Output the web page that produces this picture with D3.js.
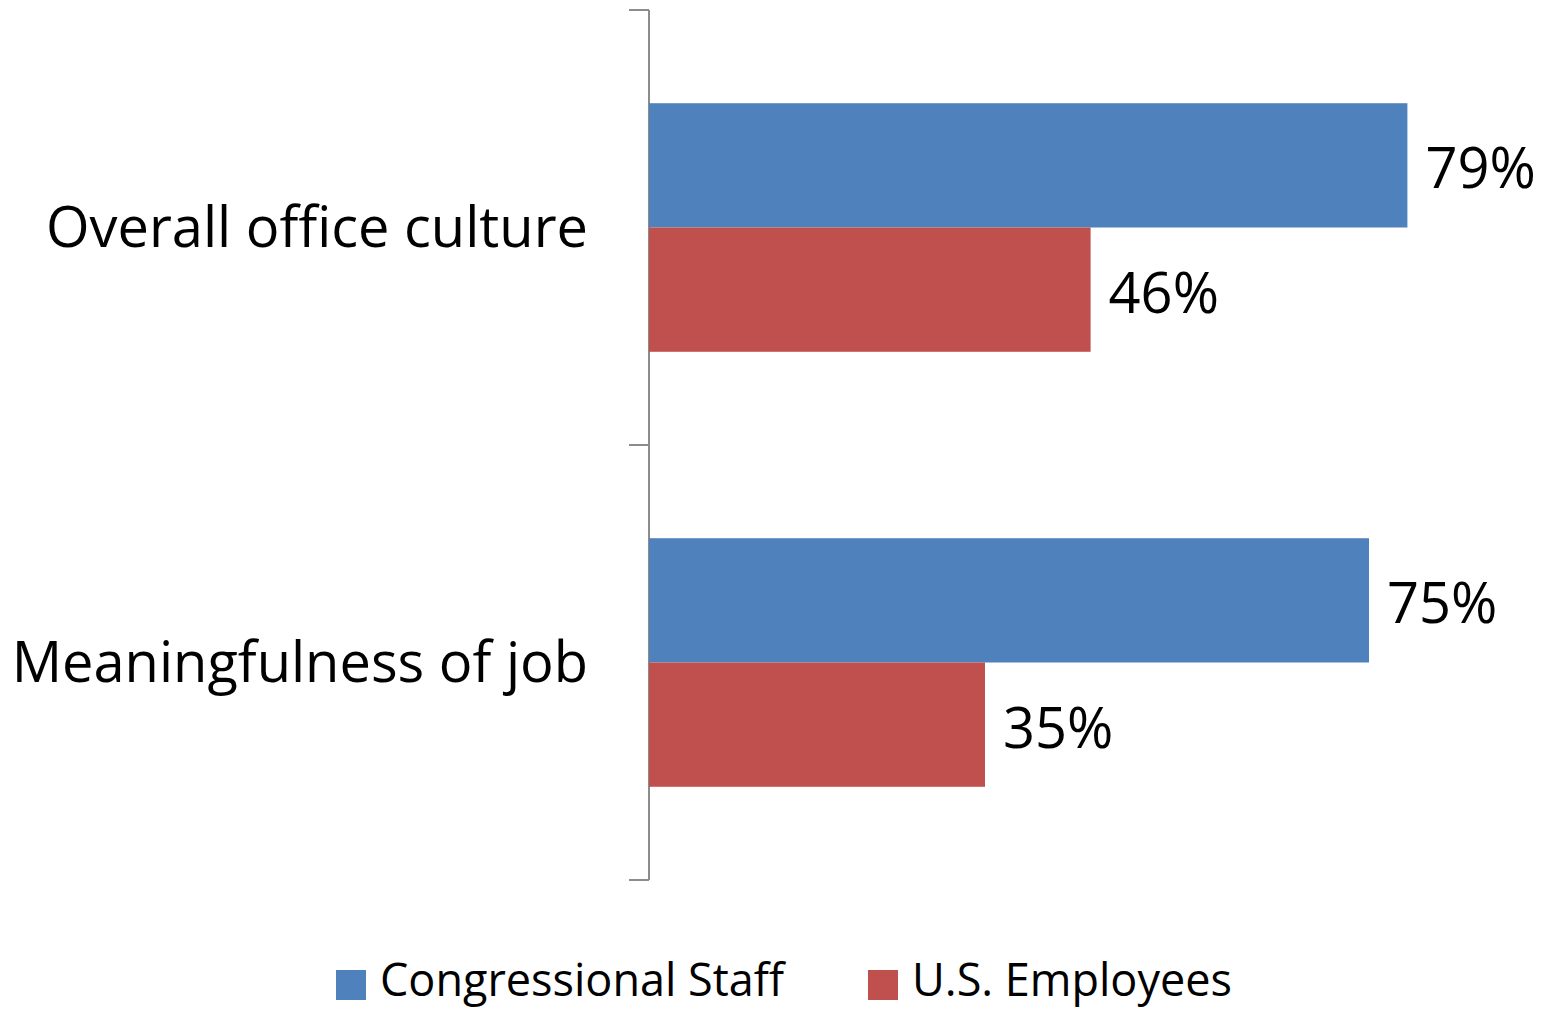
<!DOCTYPE html>
<html lang="en">
<head>
<meta charset="UTF-8">
<title>Congressional Staff vs U.S. Employees</title>
<script src="https://d3js.org/d3.v7.min.js"></script>
<style>
  body { margin: 0; background: #fff; }
  text { font-family: "Open Sans", "Noto Sans", sans-serif; fill: #000; }
</style>
</head>
<body>
<svg id="chart" width="1545" height="1010"></svg>
<script>
const categories = ["Overall office culture", "Meaningfulness of job"];
const seriesNames = ["Congressional Staff", "U.S. Employees"];
const congressionalStaff = [79, 75];
const usEmployees = [46, 35];
const seriesColors = ["#4F81BD", "#C0504D"];

const svg = d3.select("#chart");

const rows = categories.map((c, i) => ({
    category: c,
    values: [
        {series: seriesNames[0], value: congressionalStaff[i]},
        {series: seriesNames[1], value: usEmployees[i]}
    ]
}));

const x = d3.scaleLinear().domain([0, 100]).range([649, 1609]);

const y = d3.scaleBand()
    .domain(categories)
    .range([10, 880]);

const ySeries = d3.scaleBand()
    .domain(seriesNames)
    .range([0, y.bandwidth()])
    .paddingInner(0)
    .paddingOuter(0.75);

const color = d3.scaleOrdinal().domain(seriesNames).range(seriesColors);

// axis line + ticks at band edges
const axisG = svg.append("g");
const edges = categories.map(c => y(c)).concat([y.range()[1]]);
axisG.append("line")
    .attr("x1", x(0)).attr("x2", x(0))
    .attr("y1", y.range()[0]).attr("y2", y.range()[1])
    .attr("stroke", "#8c8c8c").attr("stroke-width", 2);
axisG.selectAll(".tick")
    .data(edges)
    .enter().append("line")
        .attr("x1", x(0) - 20).attr("x2", x(0))
        .attr("y1", d => d).attr("y2", d => d)
        .attr("stroke", "#8c8c8c").attr("stroke-width", 2);

// category labels
svg.append("g")
    .selectAll("text")
    .data(categories)
    .enter().append("text")
        .attr("x", x(0) - 61)
        .attr("y", d => y(d) + y.bandwidth() / 2 - 3)
        .attr("text-anchor", "end")
        .attr("dominant-baseline", "central")
        .style("font-size", "56px")
        .text(d => d);

// bars
const groups = svg.append("g")
    .selectAll("g")
    .data(rows)
    .enter().append("g")
        .attr("transform", d => `translate(0,${y(d.category)})`);

groups.selectAll("rect")
    .data(d => d.values)
    .enter().append("rect")
        .attr("x", x(0))
        .attr("y", d => ySeries(d.series))
        .attr("width", d => x(d.value) - x(0))
        .attr("height", ySeries.bandwidth())
        .attr("fill", d => color(d.series));

groups.selectAll("text")
    .data(d => d.values)
    .enter().append("text")
        .attr("x", d => x(d.value) + 18)
        .attr("y", d => ySeries(d.series) + ySeries.bandwidth() / 2 + 1)
        .attr("dominant-baseline", "central")
        .style("font-size", "56px")
        .text(d => d.value + "%");

// legend
const legendX = [336, 868];
const legend = svg.append("g")
    .selectAll("g")
    .data(seriesNames)
    .enter().append("g")
        .attr("transform", (d, i) => `translate(${legendX[i]},970)`);
legend.append("rect")
    .attr("width", 30).attr("height", 30)
    .attr("fill", d => color(d));
legend.append("text")
    .attr("x", 44)
    .attr("y", 8)
    .attr("dominant-baseline", "central")
    .style("font-size", "45px")
    .text(d => d);
</script>
</body>
</html>
